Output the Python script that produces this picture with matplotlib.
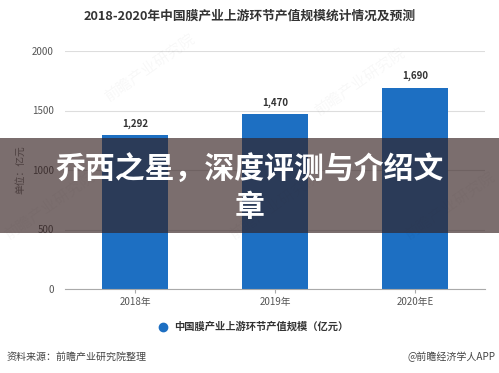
import matplotlib
matplotlib.use("Agg")
import matplotlib.pyplot as plt
from matplotlib.patches import Rectangle

plt.rcParams["font.family"] = ["Noto Sans CJK SC", "DejaVu Sans"]

years = ["2018年", "2019年", "2020年E"]
values = [1292, 1470, 1690]
value_labels = ["1,292", "1,470", "1,690"]
yticks = [0, 500, 1000, 1500, 2000]

title = "2018-2020年中国膜产业上游环节产值规模统计情况及预测"
series_name = "中国膜产业上游环节产值规模（亿元）"
banner_lines = ["乔西之星，深度评测与介绍文", "章"]

W, H = 499, 373
fig = plt.figure(figsize=(W / 100, H / 100), dpi=100)
fig.patch.set_facecolor("white")

ax = fig.add_axes([65 / W, 1 - 289 / H, 420 / W, 238 / H])
x = range(len(years))
bar_color = "#1d6fc2"
ax.bar(x, values, width=0.47, color=bar_color, zorder=2)
for xi, v, lab in zip(x, values, value_labels):
    ax.text(xi, v + 55, lab, ha="center", va="bottom", fontsize=7,
            fontweight="bold", color="#333333")

ax.set_xlim(-0.5, 2.5)
ax.set_ylim(0, 2000)
ax.set_yticks(yticks)
ax.set_yticklabels([str(t) for t in yticks], fontsize=7, color="#555555")
ax.set_xticks(list(x))
ax.set_xticklabels(years, fontsize=7, color="#555555")
ax.tick_params(axis="y", length=0, pad=8)
ax.tick_params(axis="x", length=3, color="#aaaaaa", pad=3)
ax.grid(axis="y", color="#dddddd", lw=0.8, zorder=0)
for s in ["top", "right", "left"]:
    ax.spines[s].set_visible(False)
ax.spines["bottom"].set_color("#aaaaaa")
ax.set_ylabel("单位：亿元", fontsize=7, color="#777777", labelpad=5)

fig.text(250 / W, 1 - 16 / H, title, ha="center", va="center",
         fontsize=9.2, fontweight="bold", color="#333333")

# legend
fig.lines.append(plt.Line2D([163 / W], [1 - 327 / H], transform=fig.transFigure,
                            marker="o", ms=6, color=bar_color, ls="none"))
fig.text(174 / W, 1 - 327 / H, series_name, ha="left", va="center",
         fontsize=7.4, fontweight="bold", color="#333333")

fig.text(7 / W, 1 - 357 / H, "资料来源：前瞻产业研究院整理", ha="left", va="center",
         fontsize=7.2, color="#444444")
fig.text(495 / W, 1 - 357 / H, "@前瞻经济学人APP", ha="right", va="center",
         fontsize=7.2, color="#444444")

# faint watermarks
for wx, wy in [(0.3, 0.82), (0.72, 0.78), (0.1, 0.45), (0.55, 0.45), (0.9, 0.45)]:
    fig.text(wx, wy, "前瞻产业研究院", rotation=35, fontsize=11, color="#000000",
             alpha=0.03, ha="center", va="center")

# overlay banner
fig.patches.append(Rectangle((0, 1 - 233 / H), 1, 95 / H, transform=fig.transFigure,
                             facecolor=(52 / 255, 32 / 255, 32 / 255), alpha=0.65,
                             edgecolor="none", zorder=5))
fig.text(250 / W, 1 - 170 / H, banner_lines[0], ha="center", va="center",
         fontsize=21.5, fontweight="bold", color="white", zorder=6)
fig.text(250 / W, 1 - 207 / H, banner_lines[1], ha="center", va="center",
         fontsize=21.5, fontweight="bold", color="white", zorder=6)

fig.savefig("out.png", dpi=100)
